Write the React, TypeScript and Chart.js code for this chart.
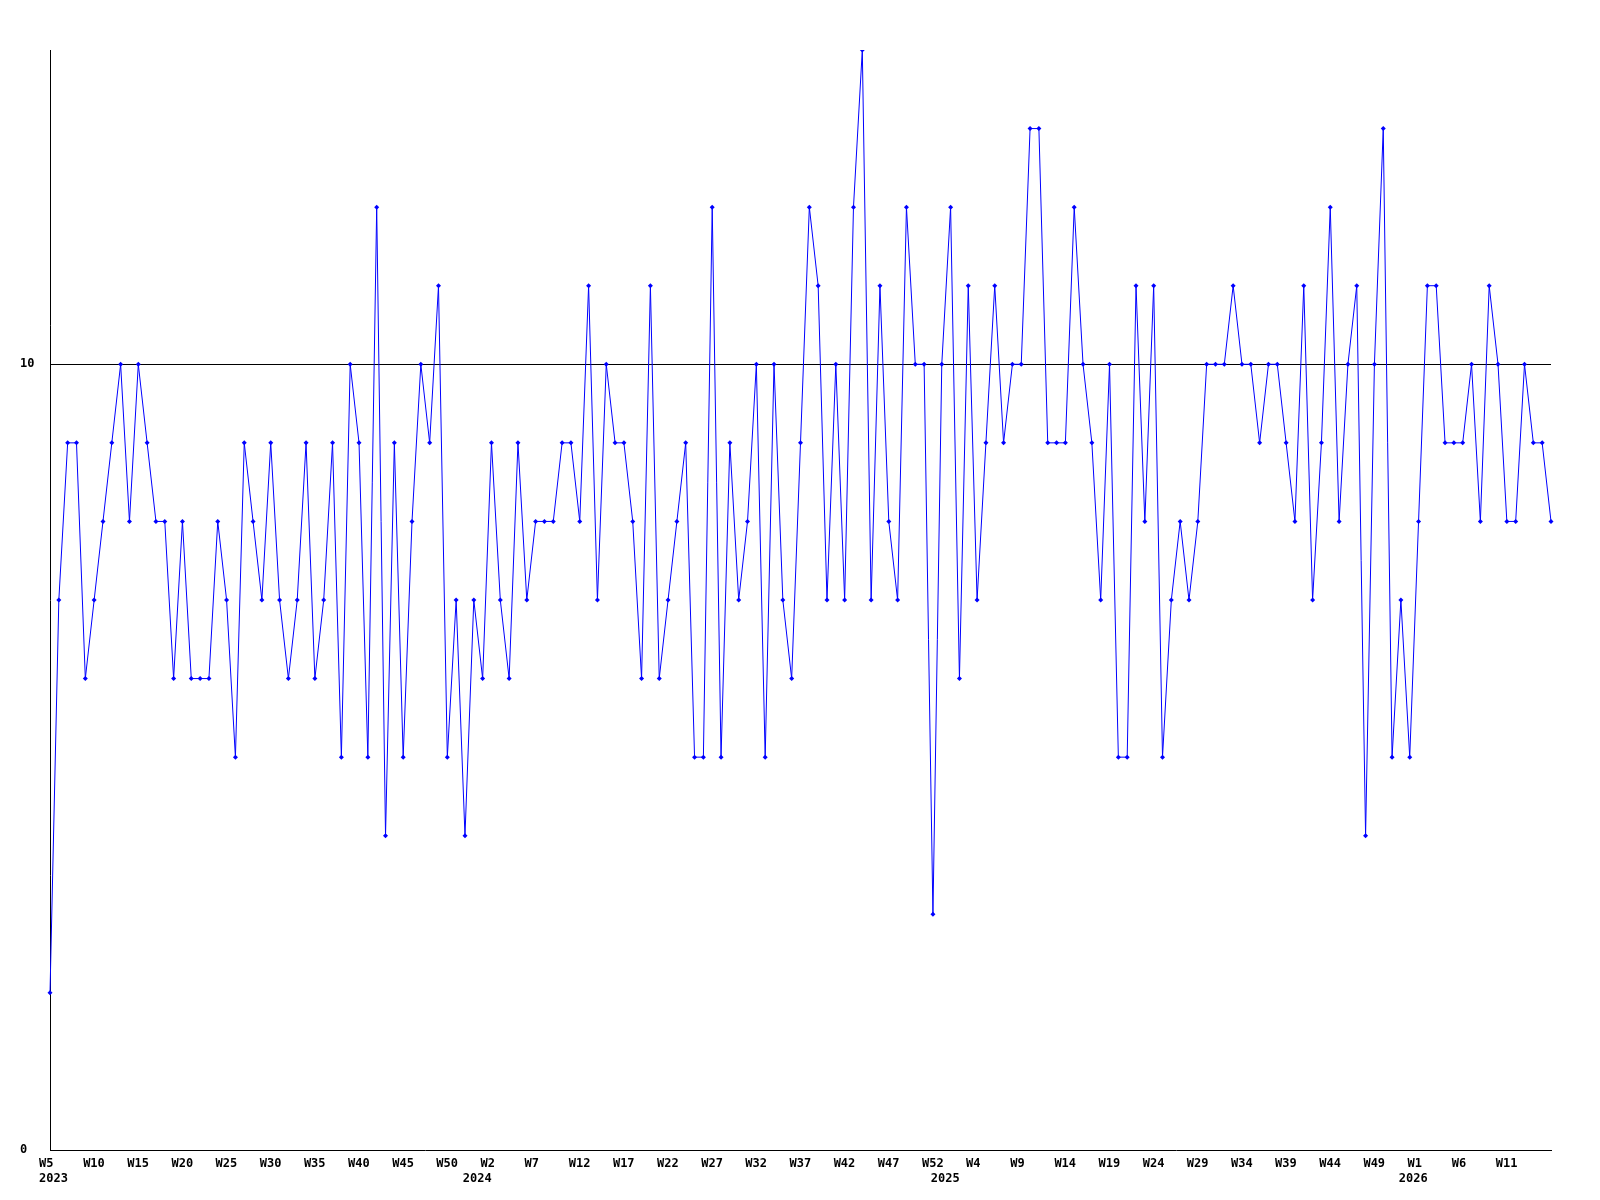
import React, { useEffect, useRef } from 'react';
import { Chart, registerables } from 'chart.js';

Chart.register(...registerables);

// Weekly values, one per week starting 2023 W5
const values: number[] = [
  2, 7, 9, 9, 6, 7, 8, 9, 10, 8,
  10, 9, 8, 8, 6, 8, 6, 6, 6, 8,
  7, 5, 9, 8, 7, 9, 7, 6, 7, 9,
  6, 7, 9, 5, 10, 9, 5, 12, 4, 9,
  5, 8, 10, 9, 11, 5, 7, 4, 7, 6,
  9, 7, 6, 9, 7, 8, 8, 8, 9, 9,
  8, 11, 7, 10, 9, 9, 8, 6, 11, 6,
  7, 8, 9, 5, 5, 12, 5, 9, 7, 8,
  10, 5, 10, 7, 6, 9, 12, 11, 7, 10,
  7, 12, 14, 7, 11, 8, 7, 12, 10, 10,
  3, 10, 12, 6, 11, 7, 9, 11, 9, 10,
  10, 13, 13, 9, 9, 9, 12, 10, 9, 7,
  10, 5, 5, 11, 8, 11, 5, 7, 8, 7,
  8, 10, 10, 10, 11, 10, 10, 9, 10, 10,
  9, 8, 11, 7, 9, 12, 8, 10, 11, 4,
  10, 13, 5, 7, 5, 8, 11, 11, 9, 9,
  9, 10, 8, 11, 10, 8, 8, 10, 9, 9,
  8,
];

// Week tick labels, shown every 5th week
const weekTickLabels: string[] = [
  'W5', 'W10', 'W15', 'W20', 'W25', 'W30', 'W35', 'W40', 'W45', 'W50',
  'W2', 'W7', 'W12', 'W17', 'W22', 'W27', 'W32', 'W37', 'W42', 'W47', 'W52',
  'W4', 'W9', 'W14', 'W19', 'W24', 'W29', 'W34', 'W39', 'W44', 'W49',
  'W1', 'W6', 'W11',
];
const weekTickStep = 5;

// Year labels and the week index where each year starts
const yearLabels: string[] = ['2023', '2024', '2025', '2026'];
const yearStartIndex: number[] = [0, 48, 101, 154];

const yTickValues: number[] = [0, 10];
const yMax = 14;

const FONT = { family: '"DejaVu Sans Mono", monospace', weight: 'bold' as const, size: 12, lineHeight: 1.25 };

export default function App() {
  const canvasRef = useRef<HTMLCanvasElement | null>(null);

  useEffect(() => {
    const canvas = canvasRef.current;
    if (!canvas) return;
    const labels = values.map((_, i) => String(i));
    const chart = new Chart(canvas, {
      type: 'line',
      data: {
        labels,
        datasets: [
          {
            data: values,
            borderColor: '#0000ff',
            borderWidth: 1,
            backgroundColor: '#0000ff',
            pointBackgroundColor: '#0000ff',
            pointBorderColor: '#0000ff',
            pointBorderWidth: 0,
            pointRadius: 2.5,
            pointStyle: 'rectRot',
            tension: 0,
            fill: false,
          },
        ],
      },
      options: {
        animation: false,
        responsive: false,
        maintainAspectRatio: false,
        layout: { padding: { left: 20, top: 50, right: 49, bottom: 0 } },
        plugins: { legend: { display: false }, tooltip: { enabled: false } },
        scales: {
          x: {
            type: 'category',
            offset: false,
            grid: { display: false, drawTicks: false },
            border: { display: true, color: '#000', width: 1 },
            ticks: {
              autoSkip: false,
              maxRotation: 0,
              minRotation: 0,
              align: 'start',
              labelOffset: -11,
              padding: 6,
              color: '#000',
              font: FONT,
              callback: (_v: any, i: number) => {
                const week = i % weekTickStep === 0 ? weekTickLabels[i / weekTickStep] || '' : '';
                const yi = yearStartIndex.indexOf(i);
                if (yi >= 0) return [week, yearLabels[yi]];
                return week;
              },
            },
            afterFit: (s: any) => {
              s.height = 50;
            },
          },
          y: {
            min: 0,
            max: yMax,
            afterBuildTicks: (s: any) => {
              s.ticks = yTickValues.map((v) => ({ value: v }));
            },
            grid: {
              drawTicks: false,
              lineWidth: 1,
              color: (ctx: any) => (ctx.tick && ctx.tick.value === 10 ? '#000' : 'rgba(0,0,0,0)'),
            },
            border: { display: true, color: '#000', width: 1 },
            ticks: {
              crossAlign: 'far',
              color: '#000',
              font: FONT,
              padding: 0,
            },
            afterFit: (s: any) => {
              s.width = 30;
            },
          },
        },
      },
    });
    return () => chart.destroy();
  }, []);

  return (
    <div style={{ position: 'absolute', left: 0, top: 0, width: 1600, height: 1200, background: '#fff' }}>
      <canvas ref={canvasRef} width={1600} height={1200} style={{ display: 'block', width: 1600, height: 1200 }} />
    </div>
  );
}
